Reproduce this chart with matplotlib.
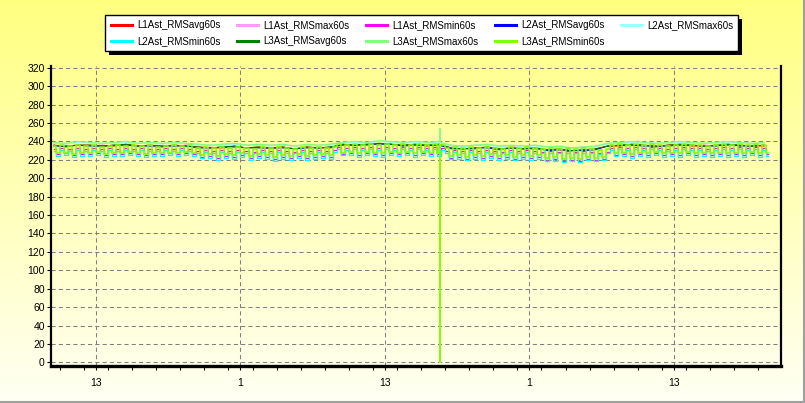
#!/usr/bin/env python3
"""Phase current RMS (60 s) chart, yellow logger style."""

import numpy as np
import matplotlib.pyplot as plt
from matplotlib.lines import Line2D
from matplotlib.patches import Rectangle
from matplotlib.ticker import FixedLocator, MultipleLocator, FuncFormatter

plt.rcParams['font.family'] = ['Liberation Sans', 'DejaVu Sans']

# time in hours counted from midnight of the first day
t_hour = np.arange(9.5, 69.0, 1.0)          # hourly samples (avg / max)
t_20min = 9.5 + np.arange(179) / 3.0         # 20 min samples (min)
major_hours = [13, 25, 37, 49, 61]

# glitch seen on L3 around 17:34 of day 2
spike_t = [41.56, 41.57, 41.58]
l3_max_spike = [239, 254, 239]
l3_min_spike = [236, 0, 236]

l1_avg = [236, 234, 236, 236, 235, 235, 237, 235, 236, 234, 236, 235,
          234, 233, 233, 235, 233, 234, 232, 234, 232, 234, 233, 233,
          237, 236, 236, 238, 237, 236, 237, 235, 237,
          233, 232, 232, 234, 232, 233, 232, 232,
          231, 231, 230, 231, 232,
          235, 235, 237, 236, 234, 236, 237, 235, 235, 236, 236, 236, 235, 235]
l1_max = [238, 238, 239, 239, 237, 239, 239, 238, 238, 238, 239, 237,
          237, 235, 237, 237, 236, 236, 236, 236, 235, 236, 236, 237,
          239, 239, 239, 240, 240, 238, 240, 239, 239,
          235, 235, 236, 236, 235, 235, 235, 236,
          234, 234, 233, 234, 234,
          238, 238, 239, 239, 238, 238, 239, 239, 237, 239, 239, 239, 238, 238]
l2_avg = [235, 235, 236, 235, 235, 236, 236, 235, 235, 235, 235, 235,
          233, 233, 234, 234, 233, 233, 233, 233, 232, 233, 233, 234,
          236, 236, 237, 237, 237, 235, 236, 236, 236,
          232, 232, 233, 233, 231, 233, 232, 233,
          230, 231, 230, 230, 231,
          235, 236, 236, 235, 235, 235, 236, 236, 235, 235, 237, 235, 235, 236]
l2_max = [238, 237, 239, 238, 238, 238, 239, 238, 238, 237, 238, 238,
          236, 236, 236, 237, 236, 236, 235, 237, 235, 236, 235, 236,
          239, 239, 238, 240, 239, 239, 239, 238, 239,
          235, 234, 236, 236, 234, 236, 234, 235,
          234, 234, 232, 233, 234,
          237, 238, 239, 238, 238, 238, 239, 238, 238, 238, 239, 239, 237, 238]
l3_avg = [236, 235, 236, 236, 235, 236, 237, 235, 236, 235, 236, 235,
          234, 233, 234, 235, 233, 234, 233, 234, 232, 234, 233, 234,
          237, 236, 237, 238, 237, 236, 237, 236, 237,
          233, 232, 233, 234, 232, 233, 232, 233,
          231, 232, 230, 231, 232,
          235, 236, 237, 236, 235, 236, 237, 236, 235, 236, 237, 236, 235, 236]
l3_max = [239, 238, 240, 239, 238, 239, 240, 238, 239, 238, 239, 238,
          237, 236, 237, 238, 236, 237, 236, 237, 235, 237, 236, 237,
          239, 240, 239, 241, 240, 239, 240, 239, 240,
          236, 235, 236, 237, 235, 236, 235, 236,
          234, 235, 233, 234, 235,
          238, 239, 240, 239, 238, 239, 240, 239, 238, 239, 240, 239, 238, 239]

l1_min = [232, 226, 233, 227, 232, 225, 233, 226, 232, 226, 233, 227,
          232, 225, 233, 226, 232, 226, 233, 227, 232, 226, 233, 225,
          232, 226, 232, 226, 233, 227, 232, 226, 233, 227, 232, 226,
          230, 223, 231, 224, 230, 222, 231, 224, 230, 223, 231, 225,
          230, 222, 229, 224, 231, 223, 230, 221, 231, 223, 230, 222,
          229, 224, 231, 222, 230, 223, 231, 224, 230, 223, 231,
          234, 226, 233, 227, 234, 225, 233, 227, 234, 226, 233, 225,
          234, 227, 233, 226, 234, 227, 233, 225, 234, 227, 233, 226,
          234, 226, 233,
          230, 222, 231, 223, 230, 221, 231, 223, 230, 222, 231, 224,
          230, 222, 229, 223, 231, 221, 230, 223, 231, 222, 230, 223,
          229, 220, 230, 221, 229, 219, 230, 220, 229, 219, 230, 221,
          229, 220, 228, 221, 229,
          233, 225, 234, 226, 233, 224, 234, 226, 233, 225, 234, 227,
          233, 225, 232, 226, 233, 225, 234, 227, 233, 225, 233, 226,
          232, 225, 233, 226, 234, 225, 233, 226, 234, 225, 233, 227,
          234, 225, 233, 226]
l2_min = [230, 224, 231, 225, 230, 223, 231, 224, 230, 224, 231, 225,
          230, 223, 231, 224, 230, 224, 231, 225, 230, 224, 231, 223,
          230, 224, 230, 224, 231, 225, 230, 224, 231, 225, 230, 224,
          228, 222, 229, 222, 228, 220, 229, 222, 228, 221, 229, 223,
          228, 220, 227, 222, 229, 221, 228, 219, 229, 221, 228, 220,
          227, 222, 229, 220, 228, 221, 229, 222, 228, 221, 229,
          232, 225, 231, 225, 232, 223, 231, 225, 232, 224, 231, 223,
          232, 225, 231, 224, 232, 225, 231, 223, 232, 225, 231, 224,
          232, 224, 231,
          228, 221, 229, 221, 228, 220, 229, 221, 228, 220, 229, 222,
          228, 220, 227, 221, 229, 220, 228, 221, 229, 220, 228, 221,
          227, 219, 228, 219, 227, 218, 228, 219, 227, 218, 228, 220,
          227, 219, 226, 220, 227,
          231, 224, 232, 224, 231, 222, 232, 224, 231, 223, 232, 225,
          231, 223, 230, 224, 231, 223, 232, 225, 231, 223, 231, 224,
          230, 223, 231, 224, 232, 223, 231, 224, 232, 223, 231, 225,
          232, 223, 231, 224]
l3_min = [235, 227, 236, 228, 235, 226, 236, 228, 235, 227, 236, 229,
          234, 226, 235, 228, 236, 227, 235, 229, 236, 227, 235, 226,
          236, 228, 234, 227, 235, 228, 236, 227, 235, 229, 236, 228,
          233, 225, 234, 226, 233, 224, 234, 226, 233, 225, 234, 227,
          233, 224, 232, 226, 234, 225, 233, 223, 234, 225, 233, 224,
          232, 226, 234, 224, 233, 225, 234, 226, 233, 225, 234,
          237, 228, 236, 229, 237, 227, 236, 229, 237, 228, 236, 227,
          237, 229, 236, 228, 237, 229, 236, 227, 237, 229, 236, 228,
          237, 228, 236,
          233, 224, 234, 225, 233, 223, 234, 225, 233, 224, 234, 226,
          233, 224, 232, 225, 234, 223, 233, 225, 234, 224, 233, 225,
          232, 222, 233, 223, 232, 221, 233, 222, 232, 221, 233, 223,
          232, 222, 231, 223, 232,
          236, 227, 237, 228, 236, 226, 237, 228, 236, 227, 237, 229,
          236, 227, 235, 228, 236, 227, 237, 229, 236, 227, 236, 228,
          235, 227, 236, 228, 237, 227, 236, 228, 237, 227, 236, 229,
          237, 227, 236, 228]

names = ['L1Ast_RMSavg60s', 'L1Ast_RMSmax60s', 'L1Ast_RMSmin60s',
         'L2Ast_RMSavg60s', 'L2Ast_RMSmax60s', 'L2Ast_RMSmin60s',
         'L3Ast_RMSavg60s', 'L3Ast_RMSmax60s', 'L3Ast_RMSmin60s']
colors = ['#FF0000', '#FF9CFF', '#FF00FF',
          '#0000FF', '#9CFFFF', '#00FFFF',
          '#008000', '#80FF80', '#80FF00']
widths = [0.7, 0.7, 0.9, 0.7, 0.7, 0.9, 0.7, 0.9, 1.15]


def with_spike(t, v, st, sv):
    i = np.searchsorted(t, st[0])
    return (np.insert(t, i, st), np.insert(np.asarray(v, float), i, sv))


fig = plt.figure(figsize=(8.05, 4.03), dpi=100)

# vertical yellow gradient behind everything
bg = fig.add_axes([0, 0, 1, 1], zorder=-10)
grad = np.linspace(0, 1, 256)[:, None]
cmap = plt.matplotlib.colors.LinearSegmentedColormap.from_list(
    'yel', ['#FFFF80', '#FFFFF4'])
bg.imshow(grad, aspect='auto', cmap=cmap, extent=[0, 1, 0, 1])
bg.set_axis_off()

ax = fig.add_axes([51 / 805, 1 - 366 / 403, 730 / 805, 300 / 403])
ax.set_facecolor('none')

t3x, v3x = with_spike(t_hour, l3_max, spike_t, l3_max_spike)
t3n, v3n = with_spike(t_20min, l3_min, spike_t, l3_min_spike)

series = [
    (t_hour, l1_avg, None), (t_hour, l1_max, None), (t_20min, l1_min, 'steps-mid'),
    (t_hour, l2_avg, None), (t_hour, l2_max, None), (t_20min, l2_min, 'steps-mid'),
    (t_hour, l3_avg, None), (t3x, v3x, None), (t3n, v3n, 'steps-mid'),
]
handles = []
for (t, v, ds), name, c, w in zip(series, names, colors, widths):
    ax.plot(t, v, color=c, lw=w, drawstyle=ds or 'default', label=name)
    handles.append(Line2D([], [], color=c, lw=2.2))

ax.set_xlim(9.26, 69.9)
ax.set_ylim(-4, 322)
ax.set_yticks(np.arange(0, 321, 20))
ax.xaxis.set_major_locator(FixedLocator(major_hours))
ax.xaxis.set_minor_locator(MultipleLocator(2))
ax.xaxis.set_major_formatter(FuncFormatter(lambda h, p: f'{int(round(h)) % 24}'))

ax.set_axisbelow(True)
ax.grid(True, which='major', color='#808080', lw=0.75, linestyle=(0, (4, 3)))
ax.tick_params(axis='both', which='both', direction='out', length=3, width=0.8,
               labelsize=7.5, color='black')
ax.tick_params(axis='x', pad=6)
ax.tick_params(axis='y', pad=1.5)

ax.spines['top'].set_visible(False)
ax.spines['left'].set_linewidth(1.6)
ax.spines['right'].set_linewidth(1.6)
ax.spines['bottom'].set_linewidth(2.4)

# legend laid out row by row (matplotlib fills column by column)
order = [0, 5, 1, 6, 2, 7, 3, 8, 4]
leg = fig.legend([handles[i] for i in order], [names[i] for i in order],
                 loc='upper center', bbox_to_anchor=(0.524, 0.963), ncol=5,
                 fontsize=7, frameon=True, fancybox=False, framealpha=1,
                 edgecolor='black', facecolor='white', handlelength=2.2,
                 handletextpad=0.5, columnspacing=1.7, labelspacing=0.6,
                 borderpad=0.55, borderaxespad=0)
leg.get_frame().set_linewidth(1.0)
leg.set_zorder(5)

fig.canvas.draw()
bb = leg.get_window_extent().transformed(fig.transFigure.inverted())
fig.patches.append(Rectangle((bb.x0 + 4 / 805, bb.y0 - 4 / 403), bb.width, bb.height,
                             transform=fig.transFigure, facecolor='black',
                             edgecolor='none', zorder=4))

# thin grey frame on the right and bottom of the control
fig.add_artist(Line2D([803.5 / 805, 803.5 / 805], [0, 1], color='#A0A0A0', lw=1.5))
fig.add_artist(Line2D([0, 1], [1.5 / 403, 1.5 / 403], color='#A0A0A0', lw=1.5))

fig.savefig('out.png', dpi=100)
plt.close(fig)
